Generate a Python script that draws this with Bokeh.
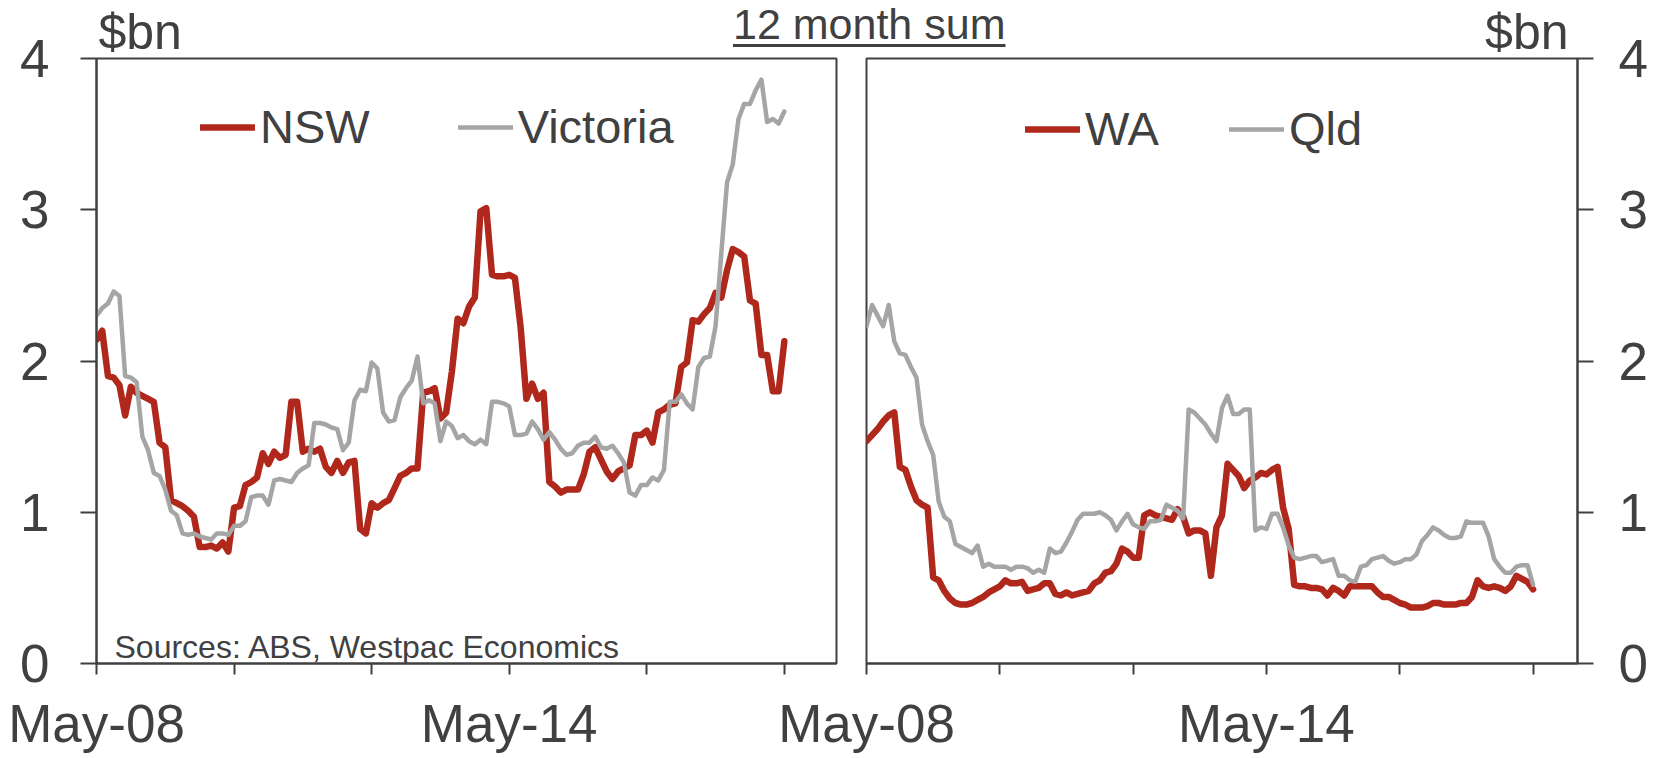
from bokeh.plotting import figure
from bokeh.layouts import row
from bokeh.models import Range1d, FixedTicker, Legend, LegendItem, Label, Div
from bokeh.embed import file_html
from bokeh.resources import INLINE

# Monthly 12-month sums, $bn, from May-2008 (month index 0) to May-2018
nsw = [2.14, 2.20, 1.90, 1.89, 1.84, 1.64, 1.83, 1.79, 1.77, 1.75,
       1.73, 1.46, 1.43, 1.08, 1.06, 1.04, 1.01, 0.97, 0.77, 0.77,
       0.78, 0.76, 0.80, 0.74, 1.03, 1.04, 1.18, 1.20, 1.23, 1.39,
       1.32, 1.40, 1.36, 1.38, 1.73, 1.73, 1.40, 1.42, 1.40, 1.42,
       1.30, 1.26, 1.34, 1.26, 1.33, 1.34, 0.89, 0.86, 1.06, 1.03,
       1.06, 1.08, 1.16, 1.24, 1.26, 1.29, 1.29, 1.79, 1.80, 1.82,
       1.62, 1.66, 1.93, 2.28, 2.25, 2.36, 2.42, 2.99, 3.01, 2.57,
       2.56, 2.56, 2.57, 2.55, 2.22, 1.75, 1.85, 1.75, 1.79, 1.20,
       1.17, 1.13, 1.15, 1.15, 1.15, 1.25, 1.40, 1.43, 1.35, 1.27,
       1.22, 1.27, 1.29, 1.31, 1.51, 1.51, 1.54, 1.46, 1.66, 1.68,
       1.71, 1.72, 1.96, 1.99, 2.27, 2.26, 2.31, 2.35, 2.45, 2.42,
       2.60, 2.74, 2.72, 2.69, 2.40, 2.38, 2.04, 2.04, 1.80, 1.80,
       2.13]

victoria = [2.30, 2.35, 2.38, 2.46, 2.43, 1.90, 1.89, 1.86, 1.50, 1.41,
            1.26, 1.24, 1.15, 1.01, 0.98, 0.86, 0.85, 0.86, 0.84, 0.83,
            0.82, 0.86, 0.86, 0.85, 0.91, 0.91, 0.94, 1.10, 1.11, 1.11,
            1.05, 1.21, 1.22, 1.21, 1.20, 1.26, 1.29, 1.31, 1.59, 1.59,
            1.58, 1.56, 1.55, 1.41, 1.46, 1.74, 1.81, 1.80, 1.99, 1.95,
            1.66, 1.60, 1.61, 1.76, 1.82, 1.87, 2.03, 1.72, 1.74, 1.72,
            1.47, 1.60, 1.57, 1.49, 1.51, 1.47, 1.45, 1.48, 1.45, 1.73,
            1.73, 1.72, 1.70, 1.51, 1.51, 1.52, 1.60, 1.55, 1.48, 1.53,
            1.48, 1.42, 1.38, 1.39, 1.44, 1.46, 1.46, 1.50, 1.43, 1.42,
            1.44, 1.39, 1.33, 1.13, 1.11, 1.18, 1.18, 1.23, 1.21, 1.28,
            1.73, 1.73, 1.78, 1.72, 1.68, 1.96, 2.02, 2.03, 2.23, 2.71,
            3.18, 3.30, 3.60, 3.70, 3.70, 3.79, 3.86, 3.58, 3.60, 3.57,
            3.65]

wa = [1.47, 1.51, 1.55, 1.60, 1.64, 1.66, 1.30, 1.28, 1.17, 1.08,
      1.05, 1.03, 0.57, 0.55, 0.48, 0.43, 0.40, 0.39, 0.39, 0.40,
      0.42, 0.44, 0.47, 0.49, 0.51, 0.55, 0.53, 0.53, 0.54, 0.48,
      0.49, 0.50, 0.53, 0.53, 0.46, 0.45, 0.47, 0.45, 0.46, 0.47,
      0.48, 0.53, 0.55, 0.60, 0.61, 0.66, 0.76, 0.74, 0.70, 0.70,
      0.98, 1.00, 0.98, 0.97, 0.96, 0.95, 1.02, 0.97, 0.86, 0.88,
      0.88, 0.86, 0.58, 0.90, 0.98, 1.32, 1.28, 1.24, 1.16, 1.21,
      1.23, 1.26, 1.25, 1.28, 1.30, 1.03, 0.89, 0.52, 0.51, 0.51,
      0.50, 0.50, 0.49, 0.45, 0.50, 0.48, 0.45, 0.51, 0.51, 0.51,
      0.51, 0.51, 0.47, 0.44, 0.44, 0.42, 0.40, 0.39, 0.37, 0.37,
      0.37, 0.38, 0.40, 0.40, 0.39, 0.39, 0.39, 0.40, 0.40, 0.44,
      0.55, 0.51, 0.50, 0.51, 0.50, 0.48, 0.51, 0.58, 0.56, 0.54,
      0.49]

qld = [2.23, 2.37, 2.30, 2.23, 2.37, 2.13, 2.05, 2.04, 1.96, 1.89,
       1.58, 1.47, 1.38, 1.07, 0.97, 0.94, 0.79, 0.77, 0.75, 0.73,
       0.78, 0.64, 0.66, 0.64, 0.64, 0.64, 0.62, 0.64, 0.64, 0.63,
       0.60, 0.62, 0.60, 0.76, 0.73, 0.74, 0.80, 0.87, 0.95, 0.99,
       0.99, 0.99, 1.00, 0.98, 0.95, 0.88, 0.94, 0.99, 0.92, 0.90,
       0.89, 0.94, 0.94, 0.95, 1.05, 1.03, 1.01, 0.96, 1.68, 1.66,
       1.62, 1.58, 1.52, 1.47, 1.69, 1.77, 1.65, 1.65, 1.68, 1.68,
       0.88, 0.90, 0.89, 0.99, 0.99, 0.90, 0.78, 0.70, 0.69, 0.70,
       0.71, 0.71, 0.67, 0.68, 0.69, 0.58, 0.58, 0.55, 0.54, 0.64,
       0.65, 0.69, 0.70, 0.71, 0.68, 0.66, 0.67, 0.69, 0.69, 0.72,
       0.81, 0.85, 0.90, 0.88, 0.85, 0.83, 0.83, 0.84, 0.94, 0.93,
       0.93, 0.93, 0.84, 0.69, 0.64, 0.60, 0.60, 0.64, 0.65, 0.65,
       0.52]

months = list(range(len(nsw)))

# x ticks every two years (24 months), labelled only at May-08 and May-14
tick_months = [0, 24, 48, 72, 96, 120]
tick_labels = ["May-08", "", "", "May-14", "", ""]
y_ticks = [0, 1, 2, 3, 4]

RED = "#B0271B"
GREY = "#A5A5A5"
INK = "#404040"
FONT = "Liberation Sans"


def style_axis(ax, tick_out):
    ax.axis_line_color = INK
    ax.axis_line_width = 2
    ax.major_tick_line_color = INK
    ax.major_tick_line_width = 2
    ax.major_tick_out = tick_out
    ax.major_tick_in = 0
    ax.minor_tick_line_color = None
    ax.major_label_text_font = FONT
    ax.major_label_text_font_size = "53px"
    ax.major_label_text_color = INK


def style_panel(p, y_standoff):
    p.xgrid.visible = False
    p.ygrid.visible = False
    p.outline_line_color = INK
    p.outline_line_width = 2
    for ax in p.xaxis:
        style_axis(ax, 11)
        ax.ticker = FixedTicker(ticks=tick_months)
        ax.major_label_overrides = dict(zip(tick_months, tick_labels))
        ax.major_label_standoff = 19
    for ax in p.yaxis:
        style_axis(ax, 16)
        ax.ticker = FixedTicker(ticks=y_ticks)
        ax.major_label_standoff = y_standoff


def style_unit_title(p, align, offset):
    p.title.text = "$bn"
    p.title.align = align
    p.title.offset = offset
    p.title.standoff = -2
    p.title.text_font = FONT
    p.title.text_font_size = "50px"
    p.title.text_font_style = "normal"
    p.title.text_color = INK


def make_legend(p, items, x, y, spacing):
    leg = Legend(items=items, orientation="horizontal", location=(x, y),
                 label_text_font=FONT, label_text_font_size="47px",
                 label_text_color=INK, glyph_width=55, glyph_height=40,
                 label_standoff=5, spacing=spacing, padding=0, margin=0,
                 border_line_color=None, background_fill_alpha=0)
    p.add_layout(leg)


# ---- left panel: NSW and Victoria ----
p1 = figure(width=848, height=758, x_range=Range1d(0, 129.1), y_range=Range1d(0, 4),
            output_backend="svg", toolbar_location=None,
            min_border_left=96, min_border_right=12, min_border_top=58, min_border_bottom=95)
style_panel(p1, 31)
style_unit_title(p1, "left", 2)
r_nsw = p1.line(months, nsw, line_color=RED, line_width=6.5, line_join="round", line_cap="round")
r_vic = p1.line(months, victoria, line_color=GREY, line_width=4.5, line_join="round", line_cap="round")
make_legend(p1, [LegendItem(label="NSW", renderers=[r_nsw]),
                 LegendItem(label="Victoria", renderers=[r_vic])], 104, 509, 88)

p1.add_layout(Label(x=18, y=17, x_units="screen", y_units="screen",
                    text="Sources: ABS, Westpac Economics",
                    text_font=FONT, text_font_size="32px", text_color=INK,
                    text_baseline="alphabetic"))

# ---- right panel: WA and Qld (overlaid canvas, transparent background) ----
p2 = figure(width=1661, height=758, x_range=Range1d(0, 128.0), y_range=Range1d(0, 4),
            output_backend="svg", toolbar_location=None, y_axis_location="right",
            min_border_left=866, min_border_right=84, min_border_top=58, min_border_bottom=95,
            margin=(0, 0, 0, -848))
p2.background_fill_alpha = 0
p2.border_fill_alpha = 0
style_panel(p2, 25)
style_unit_title(p2, "right", 9)
r_wa = p2.line(months, wa, line_color=RED, line_width=6.5, line_join="round", line_cap="round")
r_qld = p2.line(months, qld, line_color=GREY, line_width=4.5, line_join="round", line_cap="round")
make_legend(p2, [LegendItem(label="WA", renderers=[r_wa]),
                 LegendItem(label="Qld", renderers=[r_qld])], 159, 507, 70)

# ---- shared, underlined heading across both panels (zero net width in the row) ----
heading = Div(
    text=('<span style="text-decoration: underline; text-decoration-thickness: 3px; '
          'text-underline-offset: 5px;">12 month sum</span>'),
    width=280, height=50, margin=(3, 648, 0, -928),
    styles={"font-family": FONT, "font-size": "43px", "color": INK,
            "line-height": "1", "white-space": "nowrap"})

layout = row(p1, p2, heading)
open("out.html", "w").write(file_html(layout, INLINE))
